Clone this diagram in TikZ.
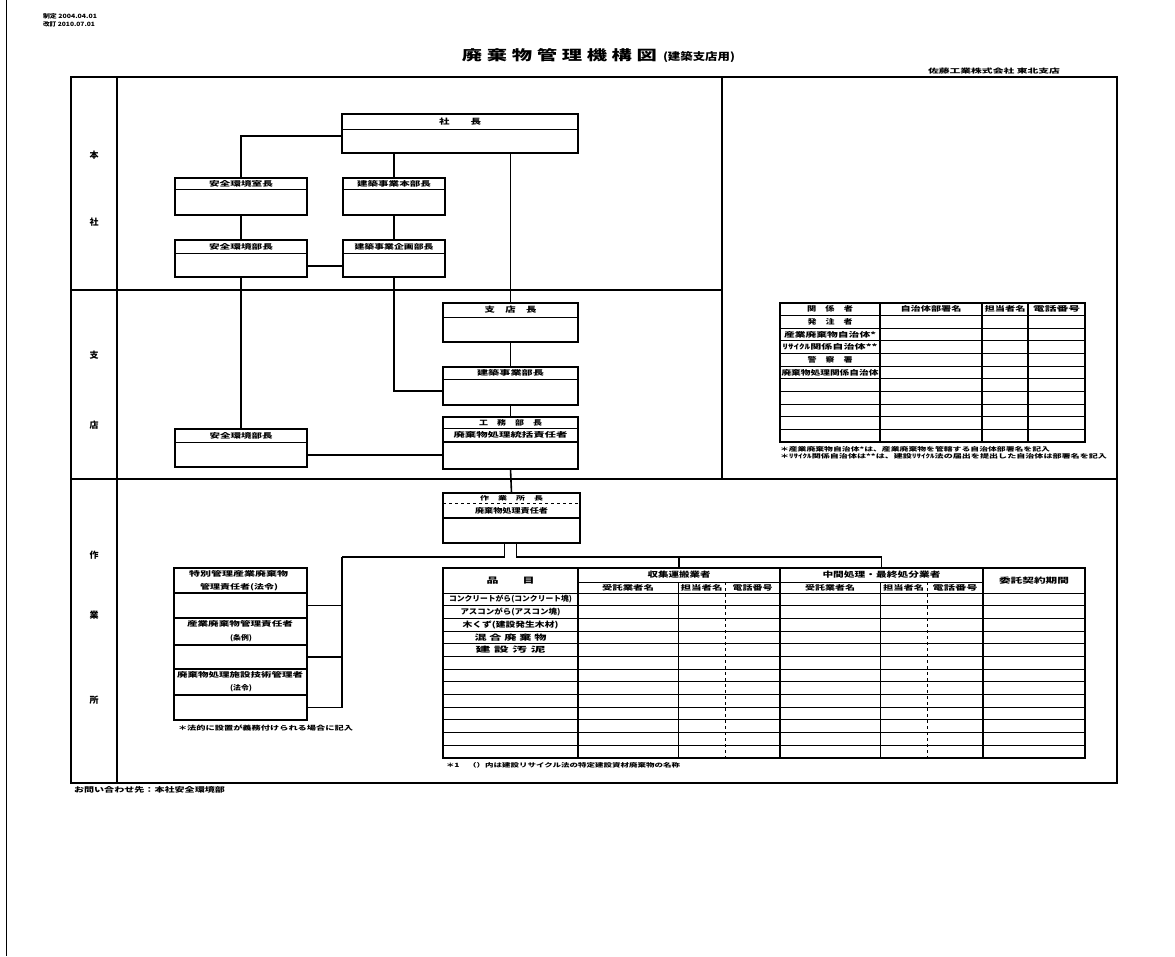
\documentclass[tikz,border=0pt]{standalone}
\usepackage{fontspec}
\setmainfont{Noto Sans CJK JP}
\usepackage{graphicx}
\newcommand{\jt}[3]{\resizebox{#1pt}{#2pt}{\bfseries #3}}
\newcommand{\orgbox}[7]{%
  \node[obox, anchor=north west, minimum width={(#4)-(#2)}, minimum height={(#5)-(#3)}] (#1) at (#2,#3) {};
  \draw[gridl] ([yshift=-#6pt]#1.north west) -- ([yshift=-#6pt]#1.north east);
  \node (#1t) at ([yshift=-#6pt/2]#1.north) {#7};
}
\begin{document}
\begin{tikzpicture}[x=1pt,y=-1pt,
  every node/.style={inner sep=0pt, outer sep=0pt},
  frame/.style={line width=2.4pt},
  obox/.style={draw, line width=2pt, rectangle},
  conn/.style={line width=1.6pt},
  gridl/.style={line width=0.9pt},
  cell/.style={rectangle, anchor=north west},
]
\fill[white] (0,0) rectangle (1175,956);
\useasboundingbox (0,0) rectangle (1175,956);

% scanned page edge
\draw[line width=1.5pt] (6.5,0) -- (6.5,956);

% top texts
\node[anchor=west] (sei) at (43,16) {\jt{54}{5}{制定 2004.04.01}};
\node[anchor=west] (kai) at (43,24.5) {\jt{52}{5}{改訂 2010.07.01}};
\node (title) at (559.5,55) {\jt{195}{12}{廃 棄 物 管 理 機 構 図}};
\node (subt) at (699,57) {\jt{72}{9}{(建築支店用)}};
\node (comp) at (994,71) {\jt{132}{5.5}{佐藤工業株式会社 東北支店}};

% frame
\draw[frame] (71,77) rectangle (1117,783);
\draw[frame] (117,77) -- (117,783);
\draw[frame] (71,290) -- (722,290);
\draw[frame] (71,479) -- (1117,479);
\draw[frame] (722,77) -- (722,479);

% section labels
\node (l1) at (94,155) {\jt{9}{7.5}{本}};
\node (l2) at (94,222) {\jt{9}{7.5}{社}};
\node (l3) at (94,355) {\jt{9}{7.5}{支}};
\node (l4) at (94,425) {\jt{9}{7.5}{店}};
\node (l5) at (94,555) {\jt{9}{7.5}{作}};
\node (l6) at (94,615) {\jt{9}{7.5}{業}};
\node (l7) at (94,700) {\jt{9}{7.5}{所}};

% organisation boxes
\orgbox{syacho}{342}{114}{578}{153}{15}{\jt{42}{6.5}{社　　長}}
\orgbox{anzen1}{175}{178}{307}{215}{11}{\jt{64}{6}{安全環境室長}}
\orgbox{kenhon}{343}{178}{445}{215}{11}{\jt{74}{6}{建築事業本部長}}
\orgbox{anzen2}{175}{240}{307}{277}{13}{\jt{64}{6}{安全環境部長}}
\orgbox{kikaku}{343}{240}{445}{277}{13}{\jt{79}{6}{建築事業企画部長}}
\orgbox{shiten}{443}{303}{578}{342}{14}{\jt{52}{6.5}{支　店　長}}
\orgbox{kenbu}{443}{367}{578}{405}{12}{\jt{67}{6}{建築事業部長}}
\orgbox{anzen3}{175}{429}{307}{467}{13}{\jt{63}{6}{安全環境部長}}

\node[obox, anchor=north west, minimum width=135, minimum height=52] (koumu) at (443,417) {};
\draw[gridl] ([yshift=-11.5pt]koumu.north west) -- ([yshift=-11.5pt]koumu.north east);
\draw[line width=1.4pt] ([yshift=-25pt]koumu.north west) -- ([yshift=-25pt]koumu.north east);
\node (koumu1) at ([yshift=-5.5pt]koumu.north) {\jt{63}{6}{工　務　部　長}};
\node (koumu2) at ([yshift=-18pt]koumu.north) {\jt{114}{6}{廃棄物処理統括責任者}};

\node[obox, anchor=north west, minimum width=137, minimum height=50] (sagyo) at (443,493) {};
\draw[gridl, dashed] ([yshift=-10pt]sagyo.north west) -- ([yshift=-10pt]sagyo.north east);
\draw[line width=1.4pt] ([yshift=-25pt]sagyo.north west) -- ([yshift=-25pt]sagyo.north east);
\node (sagyo1) at ([yshift=-5pt]sagyo.north) {\jt{63}{5}{作　業　所　長}};
\node (sagyo2) at ([yshift=-17.5pt]sagyo.north) {\jt{73}{6}{廃棄物処理責任者}};

% connectors (upper part)
\draw[conn] ([yshift=-2.5pt]syacho.west) -| (anzen1.north);
\draw[conn] (syacho.south -| kenhon.north) -- (kenhon.north);
\draw[conn] (syacho.south -| shiten.north) -- (shiten.north);
\draw[conn] (anzen1.south) -- (anzen2.north);
\draw[conn] (kenhon.south) -- (kikaku.north);
\draw[conn] ([yshift=-7.5pt]anzen2.east) -- ([yshift=-7.5pt]anzen2.east -| kikaku.west);
\draw[conn] (anzen2.south) -- (anzen3.north);
\draw[conn] (kikaku.south) |- ([yshift=-5pt]kenbu.west);
\draw[conn] (shiten.south) -- (kenbu.north);
\draw[conn] (kenbu.south) -- (koumu.north);
\draw[conn] ([yshift=-7pt]anzen3.east) -- ([yshift=-7pt]anzen3.east -| koumu.west);
\draw[conn] (koumu.south) -- (sagyo.north);

% left managers group
\node[obox, cell, minimum width=133, minimum height=25] (h1) at (174,568) {};
\node[obox, cell, minimum width=133, minimum height=25] (b1) at (174,593) {};
\node[obox, cell, minimum width=133, minimum height=27] (h2) at (174,618) {};
\node[obox, cell, minimum width=133, minimum height=24] (b2) at (174,645) {};
\node[obox, cell, minimum width=133, minimum height=26] (h3) at (174,669) {};
\node[obox, cell, minimum width=133, minimum height=25] (b3) at (174,695) {};
\node (h1a) at (238.5,574) {\jt{99}{6}{特別管理産業廃棄物}};
\node (h1b) at (239,587) {\jt{78}{6}{管理責任者(法令)}};
\node (h2a) at (240,624) {\jt{106}{6}{産業廃棄物管理責任者}};
\node (h2b) at (241,638) {\jt{22}{6}{(条例)}};
\node (h3a) at (240,675) {\jt{126}{6}{廃棄物処理施設技術管理者}};
\node (h3b) at (241,688) {\jt{22}{6}{(法令)}};
\node[anchor=west] (lnote) at (178,728) {\jt{175}{5.5}{＊法的に設置が義務付けられる場合に記入}};

\coordinate (busT) at (342,557);
\draw[conn] ([xshift=-7pt]sagyo.south) |- (busT);
\draw[conn] (busT) |- (b3.east);
\draw[conn] (b1.east) -- (b1.east -| busT);
\draw[conn] (b2.east) -- (b2.east -| busT);

% waste table
\node[draw, line width=2pt, cell, minimum width=642, minimum height=190] (wtab) at (443,568) {};
\foreach \x in {578,780,983} \draw[line width=1.3pt] (\x,568) -- (\x,758);
\foreach \x in {678,880} \draw[gridl] (\x,582) -- (\x,758);
\foreach \x in {725,927} \draw[gridl, dashed] (\x,582) -- (\x,758);
\draw[gridl] (578,582) -- (983,582);
\foreach \i in {0,...,12} \draw[gridl] (443,{593+\i*12.69}) -- (1085,{593+\i*12.69});

\node[cell, minimum width=135, minimum height=25] (hinmoku) at (443,568) {\jt{48}{6.5}{品　　目}};
\node[cell, minimum width=202, minimum height=14] (shushu) at (578,568) {\jt{63}{6.5}{収集運搬業者}};
\node[cell, minimum width=100, minimum height=11] (s1) at (578,582) {\jt{52}{6}{受託業者名}};
\node[cell, minimum width=47, minimum height=11] (s2) at (678,582) {\jt{42}{6}{担当者名}};
\node[cell, minimum width=55, minimum height=11] (s3) at (725,582) {\jt{40}{6}{電話番号}};
\node[cell, minimum width=203, minimum height=14] (chukan) at (780,568) {\jt{118}{6.5}{中間処理・最終処分業者}};
\node[cell, minimum width=100, minimum height=11] (c1) at (780,582) {\jt{50}{6}{受託業者名}};
\node[cell, minimum width=47, minimum height=11] (c2) at (880,582) {\jt{41}{6}{担当者名}};
\node[cell, minimum width=56, minimum height=11] (c3) at (927,582) {\jt{45}{6}{電話番号}};
\node[cell, minimum width=102, minimum height=25] (itaku) at (983,568) {\jt{70}{6.5}{委託契約期間}};

\foreach \i/\w/\lbl in {0/123/コンクリートがら(コンクリート塊), 1/100/アスコンがら(アスコン塊), 2/96/木くず(建設発生木材), 3/72/混 合 廃 棄 物, 4/70/建 設 汚 泥}
  \node (item\i) at (510.5,{599.3+\i*12.69}) {\jt{\w}{6.5}{\lbl}};
\node[anchor=west] (bnote) at (446,765) {\jt{234}{5}{＊1　（）内は建設リサイクル法の特定建設資材廃棄物の名称}};

\draw[conn] ([xshift=5pt]sagyo.south) |- (chukan.north |- busT) -- (chukan.north);
\draw[conn] (shushu.north |- busT) -- (shushu.north);

% contacts table
\node[draw, line width=2pt, cell, minimum width=305, minimum height=139] (rtab) at (780,303) {};
\foreach \x in {880,982,1028} \draw[line width=1.3pt] (\x,303) -- (\x,442);
\foreach \i in {1,...,10} \draw[gridl] (780,{303+\i*12.636}) -- (1085,{303+\i*12.636});
\foreach \i/\w/\lbl in {0/46/関　係　者, 1/45/発　注　者, 2/92/産業廃棄物自治体*, 3/95/ﾘｻｲｸﾙ関係自治体**, 4/45/警　察　署, 5/97/廃棄物処理関係自治体}
  \node (rk\i) at (830,{303+(\i+0.5)*12.636}) {\jt{\w}{6}{\lbl}};
\node (rh1) at (931,309.3) {\jt{61}{6}{自治体部署名}};
\node (rh2) at (1005,309.3) {\jt{41}{6}{担当者名}};
\node (rh3) at (1056.5,309.3) {\jt{47}{6}{電話番号}};
\node[anchor=west] (rn1) at (780,449) {\jt{270}{5}{＊産業廃棄物自治体*は、産業廃棄物を管轄する自治体部署名を記入}};
\node[anchor=west] (rn2) at (780,456.5) {\jt{327}{5}{＊ﾘｻｲｸﾙ関係自治体は**は、建設ﾘｻｲｸﾙ法の届出を提出した自治体は部署名を記入}};

% footer
\node[anchor=west] (toi) at (74,790) {\jt{151}{6}{お問い合わせ先：本社安全環境部}};
\end{tikzpicture}
\end{document}
